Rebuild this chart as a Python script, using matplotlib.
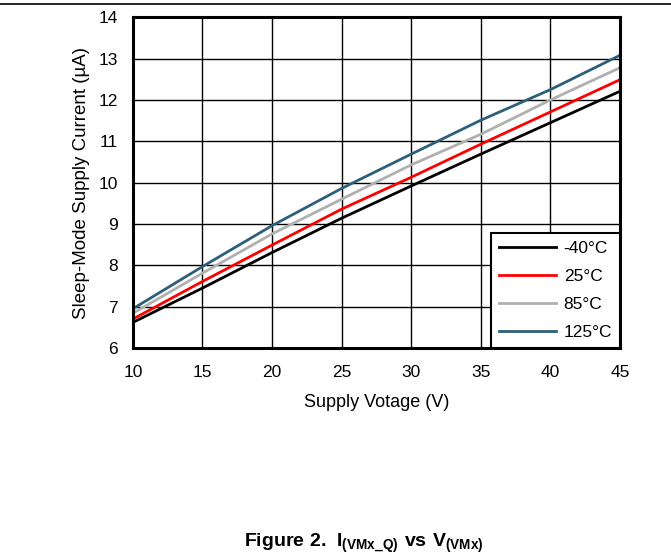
import matplotlib
matplotlib.use("Agg")
import matplotlib.pyplot as plt

plt.rcParams['font.family'] = ['Liberation Sans', 'DejaVu Sans']
plt.rcParams['mathtext.fontset'] = 'custom'
plt.rcParams['mathtext.rm'] = 'Liberation Sans'
plt.rcParams['mathtext.bf'] = 'Liberation Sans:bold'

# Supply voltage (V)
voltage = [10, 15, 20, 25, 30, 35, 40, 45]
# Sleep-mode supply current (uA) per temperature
cur_m40 = [6.62, 7.45, 8.31, 9.14, 9.92, 10.69, 11.45, 12.21]
cur_25 = [6.70, 7.61, 8.49, 9.36, 10.13, 10.93, 11.71, 12.49]
cur_85 = [6.84, 7.81, 8.76, 9.60, 10.43, 11.17, 12.00, 12.78]
cur_125 = [6.95, 7.97, 8.96, 9.86, 10.69, 11.51, 12.25, 13.08]

labels = ['-40°C', '25°C', '85°C', '125°C']
colors = ['#000000', '#ff0000', '#b0b0b0', '#2e5f7a']

fig = plt.figure(figsize=(6.71, 5.56), dpi=100)
ax = fig.add_axes([0.198, 0.374, 0.726, 0.595])

for ys, lab, c in zip([cur_m40, cur_25, cur_85, cur_125], labels, colors):
    ax.plot(voltage, ys, color=c, lw=2, label=lab)

ax.set_xlim(10, 45)
ax.set_ylim(6, 14)
ax.set_xticks(range(10, 46, 5))
ax.set_yticks(range(6, 15))
ax.grid(True, color='black', lw=1.0)
ax.tick_params(axis='x', length=0, labelsize=12.5, pad=12)
ax.tick_params(axis='y', length=0, labelsize=12.5, pad=11)
for s in ax.spines.values():
    s.set_linewidth(2.2)
ax.set_xlabel('Supply Votage (V)', fontsize=13, labelpad=10)
ax.set_ylabel('Sleep-Mode Supply Current (µA)', fontsize=13.5, labelpad=6)

leg = ax.legend(loc='lower right', fontsize=12.5, fancybox=False, framealpha=1,
                edgecolor='black', borderaxespad=0, handlelength=3.3,
                handletextpad=0.45, labelspacing=0.74, borderpad=0.45)
leg.get_frame().set_linewidth(1.5)

# rule at the top of the page
fig.add_artist(plt.Line2D([0, 1], [0.993, 0.993], color='black', lw=1.2))

fig.text(0.542, 0.017, r'$\mathbf{Figure\ 2.\ I_{(VMx\_Q)}\ vs\ V_{(VMx)}}$',
         ha='center', va='baseline', fontsize=14)

fig.savefig('out.png', dpi=100)
